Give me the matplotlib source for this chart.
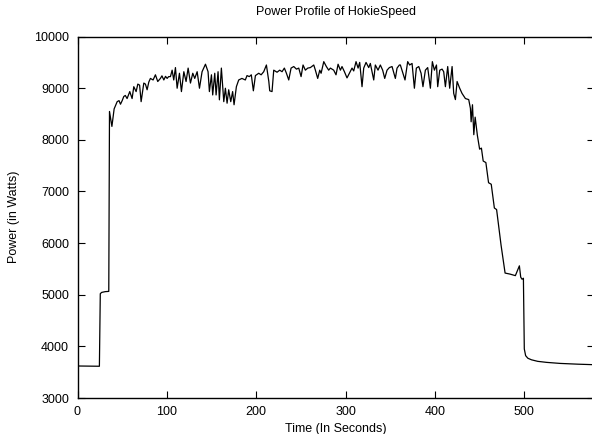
import matplotlib
matplotlib.use("Agg")
import matplotlib.pyplot as plt

# Muestras de potencia (segundos, vatios)
tiempo = [
    0, 24.5, 25.5, 27, 31, 35, 35.8, 38.5, 41, 44.4, 46.5, 48.1, 50, 51.8, 53.5,
    55.5, 58.5, 61.1, 63.0, 65.6, 67.5, 69.5, 71.2, 74.2, 76, 77.9, 79.8, 81.6,
    84.6, 87.2, 89.8, 92.8, 94.5, 96.6, 98.5, 100.3, 102, 104, 105.9, 107.7,
    109.6, 111.5, 114.1, 116.3, 119, 121.5, 123.8, 126.4, 129, 131.2, 133.9,
    136.5, 139.4, 143.2, 146.1, 147.6, 149.9, 151.3, 153.6, 155.1, 157.3, 158.8,
    161.0, 163.7, 165.5, 167.4, 169.2, 171.5, 173.6, 175.2, 177.8, 180.4, 184.0,
    187.8, 189.7, 192.3, 194.5, 196.8, 199.1, 202.8, 205.5, 208.4, 211.4, 214.1,
    215.1, 217.7, 219.6, 223.3, 226.3, 228.9, 231.5, 233.8, 236.4, 239.0, 242.0,
    245.0, 247.6, 250.2, 252.4, 255.0, 257.7, 260.6, 264.4, 266.2, 268.8, 271.1,
    272.6, 275.6, 278.5, 281.1, 283.0, 286.7, 289.3, 291.6, 294.2, 296.0, 298.7,
    301.6, 304.3, 307.2, 309.1, 311.7, 314.0, 315.8, 318.4, 320.3, 322.9, 325.9,
    327.7, 331.5, 333.3, 336.3, 338.9, 341.5, 343.8, 346.4, 349.0, 352.0, 355.7,
    357.6, 360.2, 361.3, 363.5, 366.5, 369.5, 371.7, 374.4, 377.0, 379.2, 381.9,
    384.5, 386.6, 389.3, 391.9, 394.9, 397.1, 399.4, 401.7, 403.1, 405.4, 408.0,
    409.8, 411.7, 414.3, 416.5, 419.2, 421.0, 422.9, 424.8, 427.7, 430.3, 434.1,
    437.8, 439.7, 440.5, 442, 443.5, 445, 447.5, 450, 452, 454, 457, 460, 463,
    466.5, 469, 474, 478.5, 484, 490, 494.5, 496, 497.5, 499, 500, 501.5, 504,
    508, 515, 525, 540, 560, 578,
]
potencia = [
    3620, 3615, 5020, 5045, 5060, 5065, 8550, 8260, 8600, 8740, 8760, 8690, 8760,
    8840, 8860, 8800, 8935, 8800, 9030, 8935, 9080, 9060, 8740, 9100, 9080, 8970,
    9120, 9190, 9160, 9260, 9130, 9190, 9240, 9160, 9230, 9190, 9225, 9225, 9350,
    9160, 9400, 9000, 9290, 8935, 9320, 9130, 9390, 9100, 9290, 9190, 9320, 9000,
    9320, 9465, 9320, 8935, 9260, 8870, 9290, 8870, 9320, 8775, 9390, 8740, 9000,
    8710, 8970, 8740, 8935, 8680, 9030, 9160, 9190, 9160, 9245, 9225, 9260, 8950,
    9245, 9290, 9260, 9320, 9450, 9130, 8950, 8935, 9350, 9310, 9350, 9320, 9390,
    9290, 9160, 9390, 9420, 9370, 9390, 9225, 9450, 9350, 9390, 9400, 9450, 9350,
    9190, 9350, 9290, 9515, 9420, 9350, 9390, 9350, 9260, 9465, 9350, 9420, 9320,
    9200, 9290, 9390, 9335, 9515, 9390, 9500, 9030, 9390, 9500, 9400, 9480, 9160,
    9450, 9350, 9450, 9350, 9190, 9350, 9400, 9420, 9190, 9390, 9450, 9450, 9330,
    9160, 9515, 9450, 9480, 9000, 9390, 9420, 9290, 9030, 9350, 9400, 9000, 9515,
    9350, 9450, 9030, 9350, 9370, 9320, 9030, 9420, 9000, 9420, 8900, 8780, 9130,
    9000, 8900, 8800, 8780, 8610, 8350, 8680, 8100, 8440, 8085, 7820, 7840, 7590,
    7560, 7170, 7140, 6680, 6650, 5960, 5420, 5400, 5370, 5560, 5340, 5300, 5320,
    3950, 3820, 3770, 3740, 3710, 3690, 3670, 3655, 3645,
]

ticks_x = [0, 100, 200, 300, 400, 500]
ticks_y = [3000, 4000, 5000, 6000, 7000, 8000, 9000, 10000]

plt.rcParams["font.family"] = ["Liberation Sans", "DejaVu Sans"]

fig = plt.figure(figsize=(5.92, 4.34), dpi=100)
ax = fig.add_axes([77.5 / 592, 1 - 398 / 434, (594 - 77.5) / 592, (398 - 36.6) / 434])

ax.plot(tiempo, potencia, color="black", linewidth=0.9)

ax.set_xlim(0, 578)
ax.set_ylim(3000, 10000)
ax.set_xticks(ticks_x)
ax.set_yticks(ticks_y)
ax.tick_params(direction="in", length=5, width=0.8, top=True, right=True,
               labelsize=9, pad=6)
for s in ax.spines.values():
    s.set_linewidth(1.0)

ax.set_title("Power Profile of HokieSpeed", fontsize=9, pad=15.5)
ax.set_xlabel("Time (In Seconds)", fontsize=9, labelpad=3.5)
ax.set_ylabel("Power (in Watts)", fontsize=9, labelpad=10)

fig.savefig("out.png", dpi=100)
